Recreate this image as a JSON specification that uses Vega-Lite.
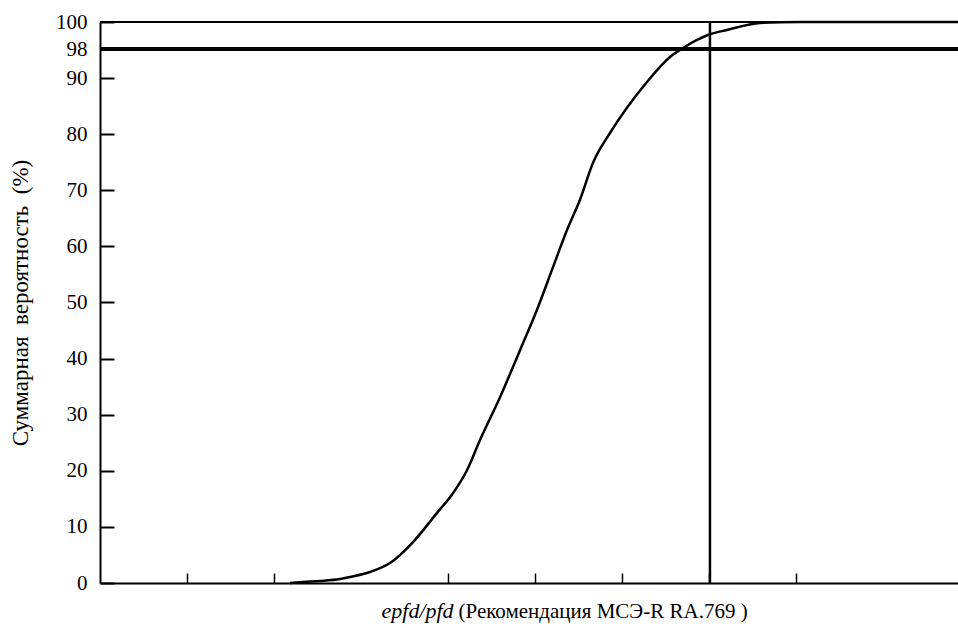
{
  "$schema": "https://vega.github.io/schema/vega-lite/v6.json",
  "autosize": "none",
  "width": 858,
  "height": 561,
  "padding": {"left": 100, "top": 22, "right": 0, "bottom": 45},
  "background": "white",
  "config": {
    "view": {"stroke": null},
    "font": "Liberation Serif",
    "axis": {"grid": false, "labelFont": "Liberation Serif", "titleFont": "Liberation Serif", "labelColor": "#000", "titleColor": "#000", "domainColor": "#000", "tickColor": "#000"}
  },
  "datasets": {
    "curve": [
      {"x": 2.184, "p": 0},
      {"x": 2.333, "p": 0.18},
      {"x": 2.529, "p": 0.36},
      {"x": 2.759, "p": 0.71},
      {"x": 2.874, "p": 1.07},
      {"x": 3.103, "p": 1.96},
      {"x": 3.333, "p": 3.56},
      {"x": 3.598, "p": 7.3},
      {"x": 3.874, "p": 12.5},
      {"x": 4.057, "p": 16.0},
      {"x": 4.218, "p": 20.1},
      {"x": 4.368, "p": 25.5},
      {"x": 4.598, "p": 33.1},
      {"x": 4.828, "p": 41.5},
      {"x": 5.023, "p": 48.7},
      {"x": 5.207, "p": 56.3},
      {"x": 5.368, "p": 62.9},
      {"x": 5.517, "p": 68.3},
      {"x": 5.667, "p": 74.9},
      {"x": 5.862, "p": 80.2},
      {"x": 6.057, "p": 84.7},
      {"x": 6.287, "p": 89.3},
      {"x": 6.552, "p": 95.8},
      {"x": 6.701, "p": 98.07},
      {"x": 6.862, "p": 98.67},
      {"x": 6.989, "p": 99.04},
      {"x": 7.207, "p": 99.41},
      {"x": 7.586, "p": 99.93},
      {"x": 8.046, "p": 100},
      {"x": 9.862, "p": 100}
    ],
    "marker": [{"x": 7.011}]
  },
  "resolve": {"scale": {"x": "independent"}, "axis": {"x": "independent"}},
  "layer": [
    {
      "data": {"name": "curve"},
      "layer": [
        {
          "mark": {"type": "rule", "color": "#000", "strokeWidth": 1},
          "encoding": {"y": {"datum": 100, "type": "quantitative"}}
        },
        {
          "mark": {"type": "rule", "color": "#000", "strokeWidth": 3},
          "encoding": {"y": {"datum": 98, "type": "quantitative"}}
        },
        {
          "mark": {"type": "line", "color": "#000", "strokeWidth": 2.5, "interpolate": "monotone"},
          "encoding": {
            "x": {
              "field": "x", "type": "quantitative",
              "scale": {"domain": [0, 9.862], "nice": false, "zero": false},
              "axis": {
                "orient": "bottom", "values": [1, 2, 4, 5, 6, 7, 8], "labels": false,
                "tickSize": -10, "tickWidth": 1.5, "domainWidth": 2,
                "title": "(Рекомендация МСЭ-R RA.769 )", "titleFontSize": 21, "titleFontWeight": "normal",
                "titleAnchor": "start", "titleAlign": "left", "titleBaseline": "alphabetic",
                "titleX": 358, "titleY": 34
              }
            },
            "y": {
              "field": "p", "type": "quantitative",
              "scale": {"type": "linear", "domain": [0, 90, 98, 100], "range": [561, 56, 27, 0], "nice": false, "zero": false},
              "axis": {
                "orient": "left",
                "values": [0, 10, 20, 30, 40, 50, 60, 70, 80, 90, 98, 100],
                "tickSize": -14, "tickWidth": 2, "domainWidth": 2,
                "labelFontSize": 21, "labelPadding": 27,
                "title": "Суммарная\u00a0\u00a0вероятность\u00a0\u00a0(%)", "titleFontSize": 23, "titleFontWeight": "normal",
                "titlePadding": 23
              }
            }
          }
        }
      ]
    },
    {
      "data": {"name": "marker"},
      "mark": {"type": "rule", "color": "#000", "strokeWidth": 2.5},
      "encoding": {
        "x": {
          "field": "x", "type": "quantitative",
          "scale": {"domain": [0, 9.862], "nice": false, "zero": false},
          "axis": {
            "orient": "bottom", "labels": false, "ticks": false, "domain": false,
            "title": "epfd/pfd", "titleFontSize": 22, "titleFontWeight": "normal", "titleFontStyle": "italic",
            "titleAnchor": "start", "titleAlign": "left", "titleBaseline": "alphabetic",
            "titleX": 281, "titleY": 34
          }
        }
      }
    }
  ]
}
